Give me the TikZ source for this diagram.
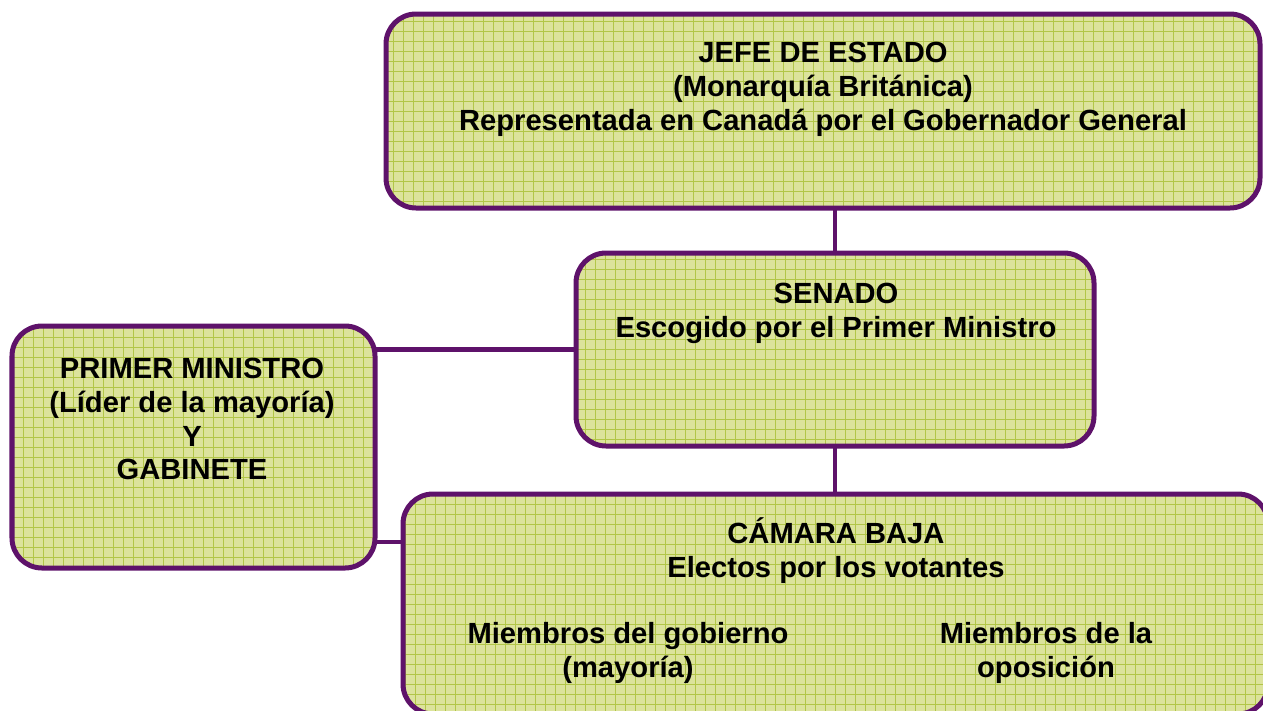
\documentclass[tikz,border=0pt]{standalone}
\usepackage{fontspec}
\setmainfont{Liberation Sans}
\usetikzlibrary{positioning}
\definecolor{boxfill}{RGB}{220,227,156}
\definecolor{gridgreen}{RGB}{178,198,72}
\definecolor{border}{RGB}{94,18,106}
\tikzset{
  panel/.style = {draw = border, line width = 0.1cm, rounded corners = 0.6cm,
    fill = boxfill, inner sep = 0pt,
    path picture = {\draw[gridgreen, line width = 0.02cm]
      (path picture bounding box.south west) grid[step = 0.2cm]
      (path picture bounding box.north east);}},
  caption/.style = {align = center, inner sep = 0pt,
    font = \bfseries\fontsize{16.6}{19.3}\selectfont},
  link/.style = {border, line width = 0.09cm}
}
\begin{document}
\begin{tikzpicture}
	\useasboundingbox (0, 0) rectangle (25.26, -14.2);
	% boxes (shapes only, text comes later)
	\coordinate (jefe pos)   at (16.46, -2.22);
	\coordinate (senado pos) at (16.70, -6.99);
	\coordinate (pm pos)     at (3.87, -8.94);
	\coordinate (camara pos) at (16.71, -12.08);
	% connectors, drawn first so the boxes cover their ends
	\coordinate (pm link) at (0, -10.84);
	\draw[link] (senado pos) -- (senado pos |- jefe pos);
	\draw[link] (senado pos) -- (senado pos |- camara pos);
	\draw[link] (senado pos) -- (senado pos -| pm pos);
	\draw[link] (pm link -| pm pos) -- (pm link -| camara pos);
	% the boxes
	\node[panel, minimum width = 17.48cm, minimum height = 3.88cm] (jefe)   at (jefe pos)   {};
	\node[panel, minimum width = 10.36cm, minimum height = 3.86cm] (senado) at (senado pos) {};
	\node[panel, minimum width = 7.26cm,  minimum height = 4.84cm] (pm)     at (pm pos)     {};
	\node[panel, minimum width = 17.30cm, minimum height = 4.40cm] (camara) at (camara pos) {};
	% texts
	\node[caption] (jefe text) at (16.46, -1.78)
		{JEFE DE ESTADO\\(Monarquía Británica)\\Representada en Canadá por el Gobernador General};
	\node[caption] (senado text) at (16.72, -6.26)
		{SENADO\\Escogido por el Primer Ministro};
	\node[caption] (pm text) at (3.84, -8.38)
		{PRIMER MINISTRO\\(Líder de la mayoría)\\Y\\GABINETE};
	\node[caption] (camara text) at (16.72, -11.02)
		{CÁMARA BAJA\\Electos por los votantes};
	\node[caption] (gobierno text) at (12.56, -13.06)
		{Miembros del gobierno\\(mayoría)};
	\node[caption] (oposicion text) at (20.92, -13.06)
		{Miembros de la\\oposición};
\end{tikzpicture}
\end{document}
